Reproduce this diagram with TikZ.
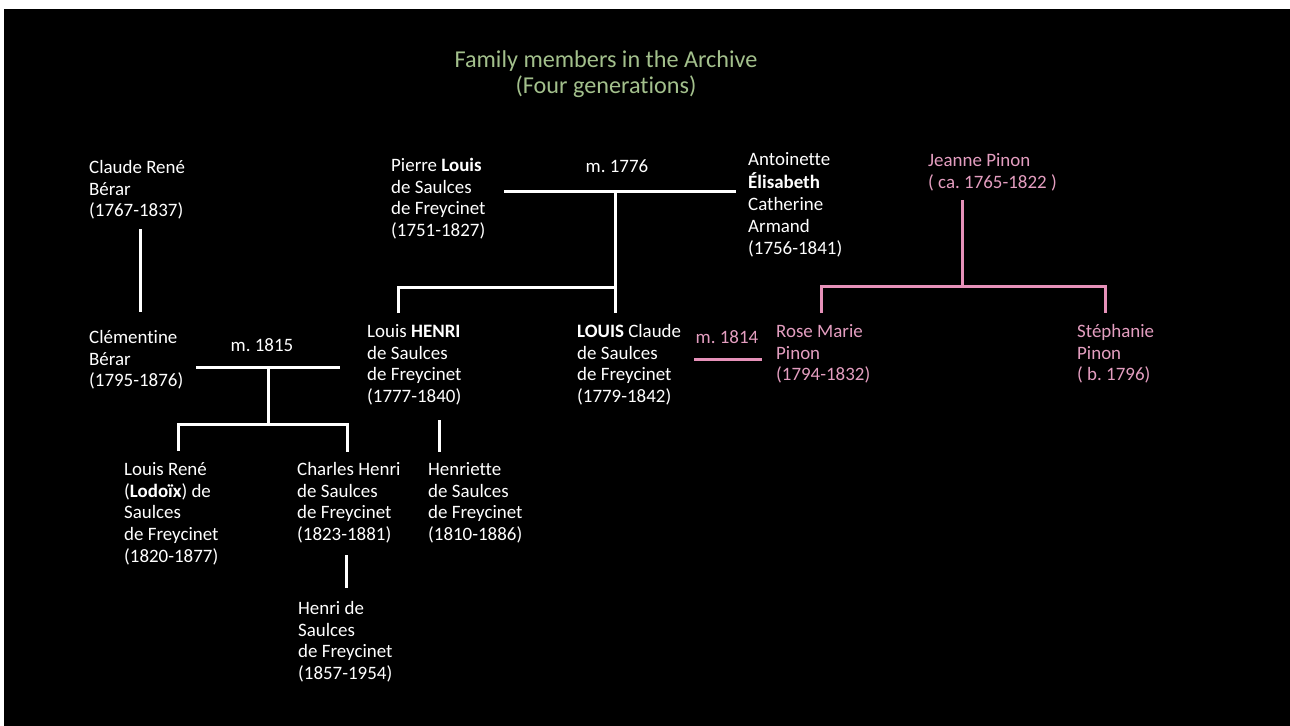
\documentclass[tikz,border=0pt]{standalone}
\usepackage{fontspec}
\setmainfont{Carlito}[Ligatures=NoCommon]
\definecolor{titlegreen}{RGB}{163,192,140}
\definecolor{pinktext}{RGB}{228,158,192}
\definecolor{pinkline}{RGB}{230,145,185}
\frenchspacing
\begin{document}
\begin{tikzpicture}[x=1bp,y=-1bp,
  person/.style={anchor=north west, inner sep=0pt, align=left, text=white, font=\fontsize{19}{22}\selectfont},
  pinkperson/.style={person, text=pinktext},
  marr/.style={anchor=base, inner sep=0pt, text=white, font=\fontsize{19}{22}\selectfont},
  pinkmarr/.style={marr, text=pinktext},
  wline/.style={draw=white, line width=3bp, line join=miter},
  pline/.style={draw=pinkline, line width=3bp, line join=miter}
]
\useasboundingbox (0,0) rectangle (1290,726);
\fill[white] (0,0) rectangle (1290,726);
\fill[black] (4,9) rectangle (1290,726);

\node[anchor=north, inner sep=0pt, align=center, text=titlegreen, font=\fontsize{24.3}{26}\selectfont] (title) at (606,48.8) {\strut Family members in the Archive\\(Four generations)};

% people
\node[person] (claude) at (89,157.6) {\strut Claude René\\Bérar\\(1767-1837)};
\node[person] (clementine) at (89,327.6) {\strut Clémentine\\Bérar\\(1795-1876)};
\node[person] (pierre) at (391,155.6) {\strut Pierre \textbf{Louis}\\de Saulces\\de Freycinet\\(1751-1827)};
\node[person] (antoinette) at (748,149.6) {\strut Antoinette\\\textbf{Élisabeth}\\Catherine\\Armand\\(1756-1841)};
\node[pinkperson] (jeanne) at (928,150.6) {\strut Jeanne Pinon\\( ca. 1765-1822 )};
\node[person] (henri) at (367,321.6) {\strut Louis \textbf{HENRI}\\de Saulces\\de Freycinet\\(1777-1840)};
\node[person] (louisc) at (577,321.6) {\strut \textbf{LOUIS} Claude\\de Saulces\\de Freycinet\\(1779-1842)};
\node[pinkperson] (rose) at (776,321.6) {\strut Rose Marie\\Pinon\\(1794-1832)};
\node[pinkperson] (stephanie) at (1077,321.6) {\strut Stéphanie\\Pinon\\( b. 1796)};
\node[person] (lodoix) at (124,459.6) {\strut Louis René\\(\textbf{Lodoïx}) de\\Saulces\\de Freycinet\\(1820-1877)};
\node[person] (charles) at (297,459.6) {\strut Charles Henri\\de Saulces\\de Freycinet\\(1823-1881)};
\node[person] (henriette) at (428,459.6) {\strut Henriette\\de Saulces\\de Freycinet\\(1810-1886)};
\node[person] (henrid) at (298,598.6) {\strut Henri de\\Saulces\\de Freycinet\\(1857-1954)};

% marriage labels
\node[marr] (m1776) at (617,173) {m. 1776};
\node[marr] (m1815) at (262,351) {m. 1815};
\node[pinkmarr] (m1814) at (727,343) {m. 1814};

% junction coordinates
\coordinate (claudeDown) at (140,229);
\coordinate (clementineUp) at (140,312);

\coordinate (w1815L) at (196,367);
\coordinate (w1815R) at (340,367);
\coordinate (w1815M) at (268,367);
\coordinate (k1815) at (268,424);
\coordinate (lodoixUp) at (178,451);
\coordinate (charlesUp) at (347,452);
\coordinate (charlesDown) at (346,555);
\coordinate (henridUp) at (346,588);
\coordinate (henriDown) at (439,420);
\coordinate (henrietteUp) at (439,452);

\coordinate (w1776L) at (504,192);
\coordinate (w1776R) at (736,192);
\coordinate (w1776M) at (615,192);
\coordinate (k1776) at (615,287);
\coordinate (henriUp) at (398,313);
\coordinate (louiscUp) at (615,313);

\coordinate (w1814L) at (694,359);
\coordinate (w1814R) at (762,359);

\coordinate (jeanneDown) at (962,200);
\coordinate (kJeanne) at (962,286);
\coordinate (roseUp) at (821,313);
\coordinate (stephanieUp) at (1105,313);

% white connectors
\draw[wline] (claudeDown) -- (clementineUp);
\draw[wline] (w1815L) -- (w1815R);
\draw[wline] (w1815M) -- (k1815);
\draw[wline] (lodoixUp) |- (k1815) -| (charlesUp);
\draw[wline] (charlesDown) -- (henridUp);
\draw[wline] (henriDown) -- (henrietteUp);
\draw[wline] (w1776L) -- (w1776R);
\draw[wline] (w1776M) -- (louiscUp);
\draw[wline] (henriUp) |- (k1776);

% pink connectors
\draw[pline] (w1814L) -- (w1814R);
\draw[pline] (jeanneDown) -- (kJeanne);
\draw[pline] (roseUp) |- (kJeanne) -| (stephanieUp);
\end{tikzpicture}
\end{document}
